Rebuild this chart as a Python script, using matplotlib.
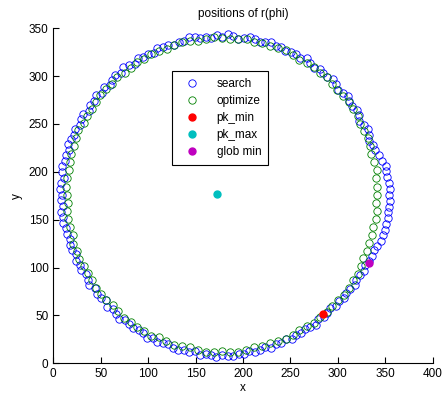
import numpy as np
import matplotlib
matplotlib.use('Agg')
import matplotlib.pyplot as plt

plt.rcParams['font.family'] = ['Liberation Sans', 'DejaVu Sans']

# centre of the r(phi) curve
center = (178, 176)

phi_search = list(range(0, 360, 2))
r_search = [176, 177, 176, 175, 175, 176, 172, 170, 168, 167, 165, 167, 168, 166, 164, 167, 168, 165, 166, 168,
            166, 164, 167, 168, 165, 166, 167, 164, 166, 168, 165, 167, 166, 164, 167, 165, 168, 166, 164, 166,
            167, 165, 164, 166, 168, 165, 167, 164, 166, 165, 167, 168, 165, 166, 164, 167, 166, 168, 165, 167,
            166, 168, 165, 167, 169, 166, 168, 167, 165, 168, 166, 169, 167, 168, 166, 169, 168, 167, 170, 168,
            169, 171, 168, 170, 169, 171, 170, 168, 170, 171, 169, 170, 168, 171, 169, 170, 168, 169, 167, 169,
            168, 166, 169, 167, 168, 166, 167, 169, 166, 168, 167, 165, 168, 166, 167, 169, 166, 167, 168, 166,
            167, 169, 166, 168, 167, 166, 168, 169, 167, 168, 166, 169, 167, 168, 170, 167, 168, 169, 167, 168,
            166, 168, 167, 165, 168, 166, 167, 165, 168, 166, 167, 165, 166, 168, 165, 167, 166, 164, 167, 166,
            168, 166, 167, 169, 167, 168, 170, 168, 169, 171, 170, 172, 174, 175, 176, 175, 177, 176, 176, 177]

# optimize: sampled every 3 deg
phi_opt = list(range(0, 360, 3))
r_opt = [163, 164, 163, 165, 164, 163, 164, 165, 164, 163, 165, 164, 165, 164, 163, 164, 165, 164, 165, 164,
         163, 164, 165, 164, 163, 164, 163, 165, 164, 163, 164, 165, 164, 163, 164, 165, 164, 163, 164, 165,
         164, 165, 164, 163, 165, 164, 165, 166, 165, 164, 165, 164, 166, 165, 164, 165, 164, 163, 164, 165,
         164, 163, 164, 165, 164, 163, 165, 164, 165, 164, 163, 164, 165, 164, 165, 163, 164, 165, 164, 165,
         164, 165, 163, 164, 165, 164, 163, 164, 165, 164, 163, 164, 165, 164, 163, 164, 163, 164, 165, 164,
         163, 164, 165, 164, 165, 164, 165, 166, 165, 164, 165, 164, 163, 164, 163, 164, 163, 164, 164, 163]

pk_min = (284, 51)
pk_max = (173, 177)
glob_min = (333, 105)


def to_xy(phi, r):
    a = np.deg2rad(np.array(phi, dtype=float))
    r = np.array(r, dtype=float)
    return center[0] + r * np.cos(a), center[1] + r * np.sin(a)


fig = plt.figure(figsize=(4.46, 3.98), dpi=100)
ax = fig.add_axes([0.1195, 0.0872, 0.8505, 0.842])

xs, ys = to_xy(phi_search, r_search)
xo, yo = to_xy(phi_opt, r_opt)
ax.plot(xs, ys, 'o', mfc='none', mec='b', ms=5.3, mew=0.6, label='search')
ax.plot(xo, yo, 'o', mfc='none', mec=(0, 0.5, 0), ms=5.3, mew=0.6, label='optimize')
ax.plot(*pk_min, 'o', color='r', ms=5, label='pk_min')
ax.plot(*pk_max, 'o', color=(0, 0.75, 0.75), ms=5, label='pk_max')
ax.plot(*glob_min, 'o', color=(0.75, 0, 0.75), ms=5, label='glob min')

ax.set_xlim(0, 400)
ax.set_ylim(0, 350)
ax.set_xticks(range(0, 401, 50))
ax.set_yticks(range(0, 351, 50))
ax.spines['top'].set_visible(False)
ax.spines['right'].set_visible(False)
ax.tick_params(direction='in', length=4, labelsize=8.5, width=0.8)
ax.set_xlabel('x', fontsize=8.5, labelpad=1)
ax.set_ylabel('y', fontsize=8.5, labelpad=4)
ax.set_title('positions of r(phi)', fontsize=8.5, pad=8)

leg = ax.legend(loc='upper left', bbox_to_anchor=(0.312, 0.873), borderaxespad=0,
                fontsize=8.5, fancybox=False, edgecolor='k', framealpha=1,
                handletextpad=1.0, borderpad=0.6, labelspacing=0.42, handlelength=2.2)
leg.get_frame().set_linewidth(0.8)

fig.savefig('out.png', dpi=100)
